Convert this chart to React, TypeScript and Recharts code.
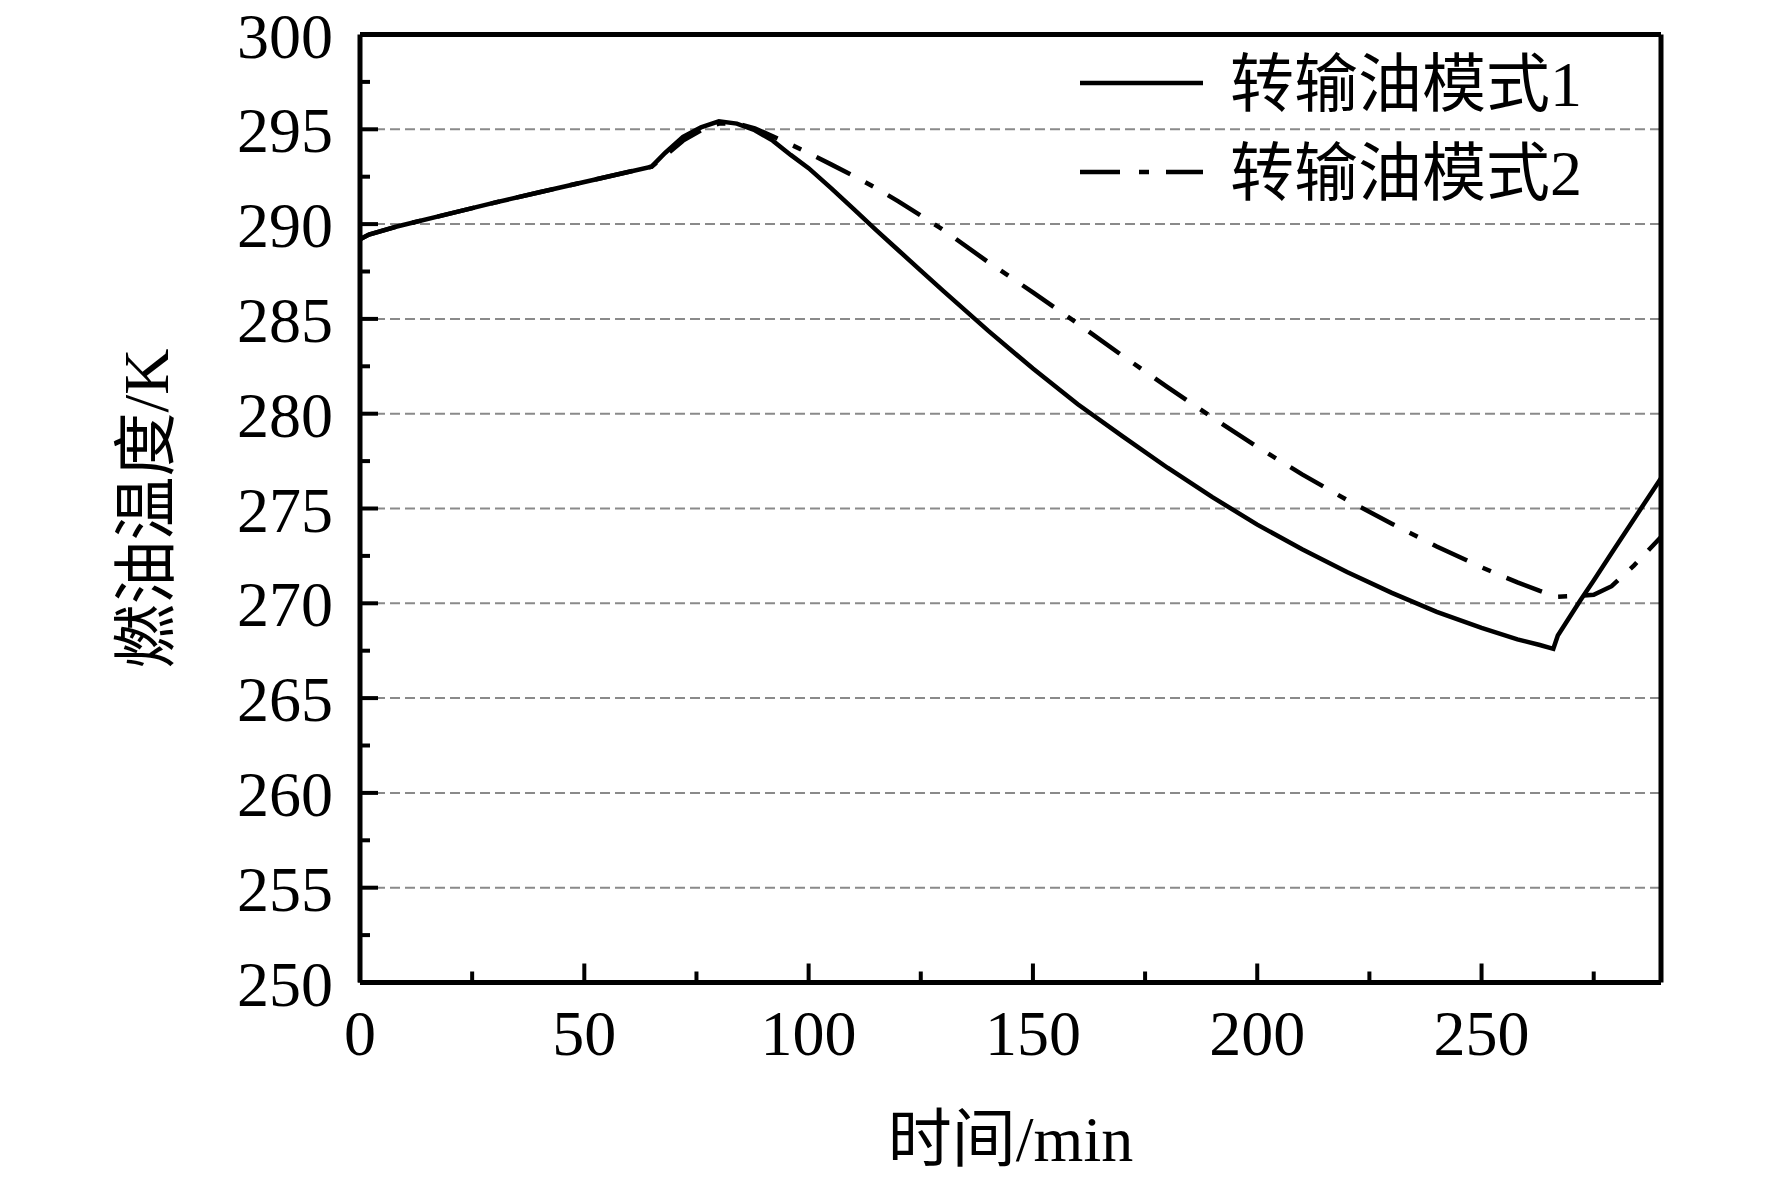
import {
  LineChart,
  Line,
  XAxis,
  YAxis,
  ReferenceLine,
  Legend,
  Label
} from "recharts"

// time axis (min) shared by both curves
const times = [
  0, 2, 8, 20, 30, 40, 50, 65,
  68, 72, 76, 80, 84, 88, 92, 96,
  100, 105, 110, 115, 120, 125, 130,
  140, 150, 160, 170, 180, 190, 200, 210, 220, 230, 240, 250,
  258, 263, 266, 267, 272, 275, 279, 284, 290
]

const mode1 = [
  289.2, 289.45, 289.86, 290.55, 291.13, 291.68, 292.22, 293.03,
  293.75, 294.6, 295.1, 295.42, 295.3, 294.95, 294.4, 293.65,
  292.95, 291.9, 290.8, 289.7, 288.62, 287.55, 286.48,
  284.38, 282.38, 280.5, 278.8, 277.15, 275.6, 274.15, 272.85, 271.65, 270.55, 269.55, 268.7,
  268.1, 267.8, 267.6, 268.3, 270.15, 271.2, 272.65, 274.45, 276.6
]

const mode2 = [
  289.2, 289.45, 289.86, 290.55, 291.13, 291.68, 292.22, 293.03,
  293.6, 294.4, 294.95, 295.3, 295.3, 295.05, 294.63, 294.2,
  293.75, 293.15, 292.55, 291.9, 291.2, 290.45, 289.7,
  288.0, 286.4, 284.75, 283.05, 281.4, 279.8, 278.25, 276.8, 275.45, 274.2, 273.0, 271.9,
  271.1, 270.65, 270.4, 270.35, 270.4, 270.45, 270.9, 272.0, 273.5
]

const seriesNames = ["转输油模式1", "转输油模式2"]

const xTicks = [0, 25, 50, 75, 100, 125, 150, 175, 200, 225, 250, 275]
const yTicks = [
  250, 252.5, 255, 257.5, 260, 262.5, 265, 267.5, 270, 272.5, 275,
  277.5, 280, 282.5, 285, 287.5, 290, 292.5, 295, 297.5, 300
]
const gridValues = [255, 260, 265, 270, 275, 280, 285, 290, 295]

const data = times.map((t, i) => ({
  t,
  m1: mode1[i],
  m2: mode2[i]
}))

const FONT = "'Liberation Serif', 'Noto Sans CJK SC', serif"
const DASH_DOT = "38 17 9 17"

function XTick(props: any) {
  const { x, y, payload } = props
  const major = payload.value % 50 === 0
  return (
    <g>
      <line x1={x} x2={x} y1={y} y2={y - (major ? 19 : 11)} stroke="#000" strokeWidth={4} />
      {major && (
        <text x={x} y={y + 72} textAnchor="middle" fontFamily={FONT} fontSize={64} fill="#000">
          {payload.value}
        </text>
      )}
    </g>
  )
}

function YTick(props: any) {
  const { x, y, payload } = props
  const major = payload.value % 5 === 0
  return (
    <g>
      <line x1={x} x2={x + (major ? 18 : 10)} y1={y} y2={y} stroke="#000" strokeWidth={4} />
      {major && (
        <text x={x - 27} y={y + 23} textAnchor="end" fontFamily={FONT} fontSize={64} fill="#000">
          {payload.value}
        </text>
      )}
    </g>
  )
}

function LegendBox() {
  return (
    <svg width={560} height={200} style={{ display: "block" }}>
      <line x1={12} x2={135} y1={55} y2={55} stroke="#000" strokeWidth={4.5} />
      <text x={162} y={78} fontFamily={FONT} fontSize={64} fill="#000">{seriesNames[0]}</text>
      <line x1={12} x2={135} y1={144} y2={144} stroke="#000" strokeWidth={4.5} strokeDasharray="40 19 10 17" />
      <text x={162} y={167} fontFamily={FONT} fontSize={64} fill="#000">{seriesNames[1]}</text>
    </svg>
  )
}

export default function App() {
  return (
    <div style={{ marginTop: -8 }}>
      <LineChart
        width={1756}
        height={1173}
        data={data}
        margin={{ top: 34.5, right: 103, left: 0, bottom: 0.5 }}
      >
        {gridValues.map((v) => (
          <ReferenceLine
            key={v}
            y={v}
            stroke="#8a8a8a"
            strokeWidth={2}
            strokeDasharray="10 5"
          />
        ))}

        <XAxis
          dataKey="t"
          type="number"
          domain={[0, 290]}
          ticks={xTicks}
          interval={0}
          height={190}
          tickSize={0}
          tickMargin={0}
          tickLine={false}
          tick={<XTick />}
          axisLine={{ stroke: "#000", strokeWidth: 5 }}
        >
          <Label
            content={(p: any) => {
              const vb = p.viewBox
              return (
                <text
                  x={vb.x + vb.width / 2}
                  y={vb.y + 178}
                  textAnchor="middle"
                  fontFamily={FONT}
                  fontSize={64}
                  fill="#000"
                >
                  时间/min
                </text>
              )
            }}
          />
        </XAxis>

        <YAxis
          type="number"
          domain={[250, 300]}
          ticks={yTicks}
          interval={0}
          width={352}
          tickSize={0}
          tickMargin={0}
          tickLine={false}
          tick={<YTick />}
          axisLine={{ stroke: "#000", strokeWidth: 5 }}
          allowDataOverflow
        >
          <Label
            content={(p: any) => {
              const vb = p.viewBox
              const cx = vb.x + vb.width - 192
              const cy = vb.y + vb.height / 2
              return (
                <text
                  x={cx}
                  y={cy}
                  transform={`rotate(-90, ${cx}, ${cy})`}
                  textAnchor="middle"
                  fontFamily={FONT}
                  fontSize={64}
                  fill="#000"
                >
                  燃油温度/K
                </text>
              )
            }}
          />
        </YAxis>

        <Line
          dataKey="m1"
          name={seriesNames[0]}
          type="linear"
          stroke="#000"
          strokeWidth={4.5}
          dot={false}
          isAnimationActive={false}
        />
        <Line
          dataKey="m2"
          name={seriesNames[1]}
          type="linear"
          stroke="#000"
          strokeWidth={4.5}
          strokeDasharray={DASH_DOT}
          dot={false}
          isAnimationActive={false}
        />

        <ReferenceLine y={300} stroke="#000" strokeWidth={5} />
        <ReferenceLine x={290} stroke="#000" strokeWidth={5} />

        <Legend
          layout="horizontal"
          verticalAlign="middle"
          align="center"
          content={() => <LegendBox />}
          wrapperStyle={{ left: 1060, top: 28, width: 560, height: 200 }}
        />
      </LineChart>
    </div>
  )
}
